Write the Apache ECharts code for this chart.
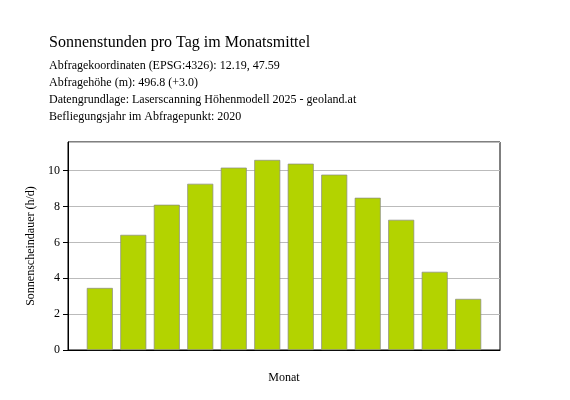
<!DOCTYPE html>
<html><head><meta charset="utf-8">
<script src="https://cdn.jsdelivr.net/npm/echarts@6/dist/echarts.min.js"></script>
<style>html,body{margin:0;padding:0;background:#fff}#c{width:570px;height:400px}</style>
</head><body><div id="c"></div>
<script>
const months = ['01','02','03','04','05','06','07','08','09','10','11','12'];
const hours = [3.46,6.42,8.1,9.27,10.17,10.6,10.39,9.78,8.49,7.26,4.36,2.85];
const titleText = 'Sonnenstunden pro Tag im Monatsmittel';
const subLines = [
 'Abfragekoordinaten (EPSG:4326): 12.19, 47.59',
 'Abfragehöhe (m): 496.8 (+3.0)',
 'Datengrundlage: Laserscanning Höhenmodell 2025 - geoland.at',
 'Befliegungsjahr im Abfragepunkt: 2020'
];
const F = '"Liberation Serif", "DejaVu Serif", serif';
const chart = echarts.init(document.getElementById('c'));
chart.setOption({
 animation:false,
 textStyle:{fontFamily:F},
 title:{text:titleText,left:44,top:30,textStyle:{fontFamily:F,fontSize:16,fontWeight:'normal',color:'#000'},
   subtext:subLines.join('\n'),subtextStyle:{fontFamily:F,fontSize:12,color:'#000',lineHeight:17},itemGap:6},
 grid:{left:68,right:70,top:142,bottom:50,show:true,borderColor:'#000',borderWidth:1},
 xAxis:{type:'value',min:0.05,max:12.95,interval:1,name:'Monat',nameLocation:'middle',nameGap:22,
   nameTextStyle:{fontFamily:F,fontSize:12,color:'#000'},
   splitLine:{show:false},
   axisLine:{lineStyle:{color:'#000'}},axisTick:{show:false},
   axisLabel:{fontFamily:F,fontSize:12,color:'#000',showMinLabel:false,showMaxLabel:false,
     formatter:v=>{const i=Math.round(v)-1;return Math.abs(v-Math.round(v))<1e-6&&months[i]?months[i]:'';}}},
 yAxis:{type:'value',min:0,max:11.6,interval:2,name:'Sonnenscheindauer (h/d)',nameLocation:'middle',nameGap:24,
   nameTextStyle:{fontFamily:F,fontSize:12,color:'#000'},
   axisLine:{show:true,lineStyle:{color:'#000'}},axisTick:{show:true,lineStyle:{color:'#000'}},
   axisLabel:{fontFamily:F,fontSize:12,color:'#000',showMaxLabel:false},
   splitLine:{lineStyle:{color:'#bbb'}}},
 series:[{type:'bar',data:hours.map((v,i)=>[i+1,v]),barWidth:26,
   itemStyle:{color:'#b3d300',borderColor:'#888',borderWidth:0.7}}]
});
</script></body></html>
